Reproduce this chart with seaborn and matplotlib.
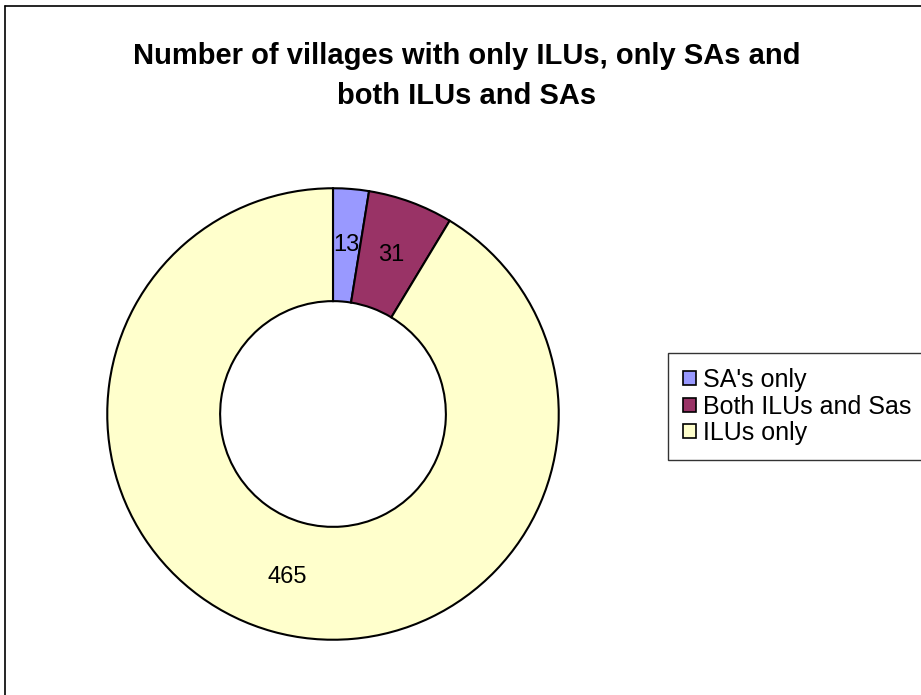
import numpy as np
import matplotlib
matplotlib.use("Agg")
import matplotlib.pyplot as plt
import matplotlib.patches as mpatches
import seaborn as sns

# data
categories = ["SA's only", "Both ILUs and Sas", "ILUs only"]
counts = [13, 31, 465]
colors = ["#9999FF", "#993366", "#FFFFCC"]
title = "Number of villages with only ILUs, only SAs and\nboth ILUs and SAs"

sns.set_theme(style="white")
plt.rcParams['font.family'] = ['Liberation Sans', 'DejaVu Sans']
plt.rcParams['text.color'] = 'black'

W, H = 921, 695
fig = plt.figure(figsize=(W / 100, H / 100), dpi=100)

# chart frame (only top and left visible, rest clipped)
fig.add_artist(plt.Line2D([5 / W, 5 / W], [0, 1 - 6 / H], transform=fig.transFigure, color="black", lw=1.2))
fig.add_artist(plt.Line2D([5 / W, 1], [1 - 6 / H, 1 - 6 / H], transform=fig.transFigure, color="black", lw=1.2))

# pie axes: center (333, 414), radius 228 px
cx, cy, r = 333, 414, 228
ax = fig.add_axes([(cx - r) / W, 1 - (cy + r) / H, 2 * r / W, 2 * r / H])
wedges, texts, autotexts = ax.pie(
    counts, colors=colors, startangle=90, counterclock=False,
    radius=1, autopct=lambda p: f"{round(p * sum(counts) / 100):d}",
    pctdistance=0.75,
    wedgeprops=dict(width=0.5, edgecolor="black", linewidth=1.5),
    textprops=dict(fontsize=17, color="black"))
ax.set_xlim(-1.01, 1.01)
ax.set_ylim(-1.01, 1.01)
ax.set_aspect("equal")
ax.axis("off")

fig.text(467 / W, 1 - 76 / H, title, ha="center", va="center", fontsize=21,
         fontweight="bold", linespacing=1.5, color="black")

handles = [mpatches.Patch(facecolor=c, edgecolor="black", lw=1.2) for c in colors]
leg = fig.legend(handles, categories, loc="upper left",
                 bbox_to_anchor=(668 / W, 1 - 353 / H), borderaxespad=0,
                 fontsize=18, frameon=True, fancybox=False,
                 handlelength=0.5, handleheight=0.5, handletextpad=0.3,
                 labelspacing=0.1, borderpad=0.6, labelcolor="black")
leg.get_frame().set_edgecolor("black")
leg.get_frame().set_linewidth(1.0)

fig.savefig("out.png", dpi=100, facecolor="white")
